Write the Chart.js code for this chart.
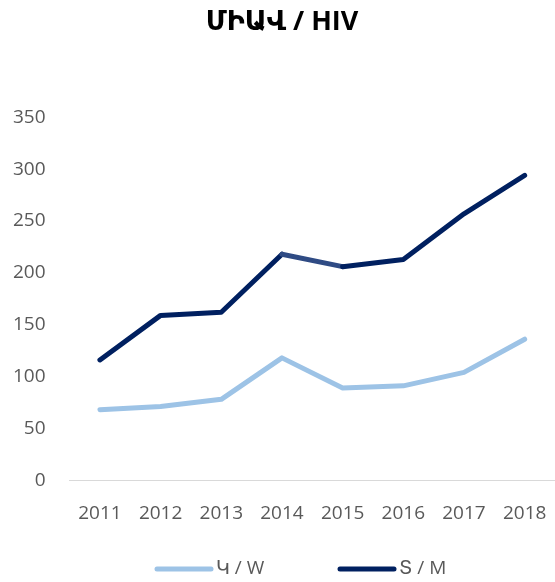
<!DOCTYPE html>
<html>
<head>
<meta charset="utf-8">
<script src="https://cdn.jsdelivr.net/npm/chart.js@4"></script>
<style>
  html, body { margin: 0; padding: 0; background: #fff; overflow: hidden; }
  #wrap { width: 555px; height: 582px; }
</style>
</head>
<body>
<div id="wrap"><canvas id="myChart"></canvas></div>
<script>
// data
const years = ['2011', '2012', '2013', '2014', '2015', '2016', '2017', '2018'];
const women = [68, 71, 78, 118, 89, 91, 104, 136];
const men = [116, 159, 162, 218, 206, 213, 257, 294];
const seriesNames = ['Կ / W', 'Տ / M'];
const titleText = 'ՄԻԱՎ / HIV';

const fontFam = '"Open Sans", "Noto Sans", "DejaVu Sans", sans-serif';
const tickGrey = '#595959';

// simple legend at the bottom: short thick line then the label, like the original
const lineLegend = {
    id: 'lineLegend',
    afterDraw(chart) {
        const ctx = chart.ctx;
        const y = 569;
        const startX = [157, 340];
        ctx.save();
        ctx.font = '19px ' + fontFam;
        ctx.textBaseline = 'middle';
        ctx.textAlign = 'left';
        chart.data.datasets.forEach((ds, i) => {
            const x = startX[i];
            ctx.strokeStyle = ds.borderColor;
            ctx.lineWidth = 5;
            ctx.lineCap = 'round';
            ctx.beginPath();
            ctx.moveTo(x, y);
            ctx.lineTo(x + 54, y);
            ctx.stroke();
            ctx.fillStyle = tickGrey;
            ctx.fillText(ds.label, x + 59, y);
        });
        ctx.restore();
    }
};

const data = {
    labels: years,
    datasets: [{
        label: seriesNames[0],
        data: women,
        borderColor: '#9dc3e6',
        backgroundColor: '#9dc3e6',
        borderWidth: 5,
        borderCapStyle: 'round',
        borderJoinStyle: 'round',
        pointRadius: 0,
        tension: 0
    }, {
        label: seriesNames[1],
        data: men,
        borderColor: '#002060',
        backgroundColor: '#002060',
        borderWidth: 5,
        borderCapStyle: 'round',
        borderJoinStyle: 'round',
        pointRadius: 0,
        tension: 0,
        // the 2014-2015 piece is a lighter navy in the original
        segment: {
            borderColor: ctx => ctx.p0DataIndex === 3 ? '#2f4b84' : undefined
        }
    }]
};

const config = {
    type: 'line',
    data: data,
    plugins: [lineLegend],
    options: {
        responsive: true,
        maintainAspectRatio: false,
        animation: false,
        layout: { padding: { left: 9, right: 0, top: 0, bottom: 55 } },
        plugins: {
            title: {
                display: true,
                text: titleText,
                color: '#000',
                font: { family: fontFam, size: 27, weight: 'bold' },
                padding: { top: 6, bottom: 79 }
            },
            legend: { display: false },
            tooltip: { enabled: false }
        },
        scales: {
            x: {
                offset: true,
                // invisible tick marks give the gap under the axis without side padding
                grid: { display: false, drawTicks: true, tickLength: 20, tickColor: 'rgba(0,0,0,0)' },
                border: { display: true, color: '#d9d9d9', width: 1 },
                ticks: {
                    color: tickGrey,
                    font: { family: fontFam, size: 19 },
                    padding: 2,
                    maxRotation: 0
                }
            },
            y: {
                min: 0,
                max: 350,
                grid: { display: false, drawTicks: true, tickLength: 20, tickColor: 'rgba(0,0,0,0)' },
                border: { display: false },
                ticks: {
                    stepSize: 50,
                    color: tickGrey,
                    font: { family: fontFam, size: 19 },
                    padding: 4
                }
            }
        }
    }
};

const myChart = new Chart(document.getElementById('myChart'), config);
</script>
</body>
</html>
